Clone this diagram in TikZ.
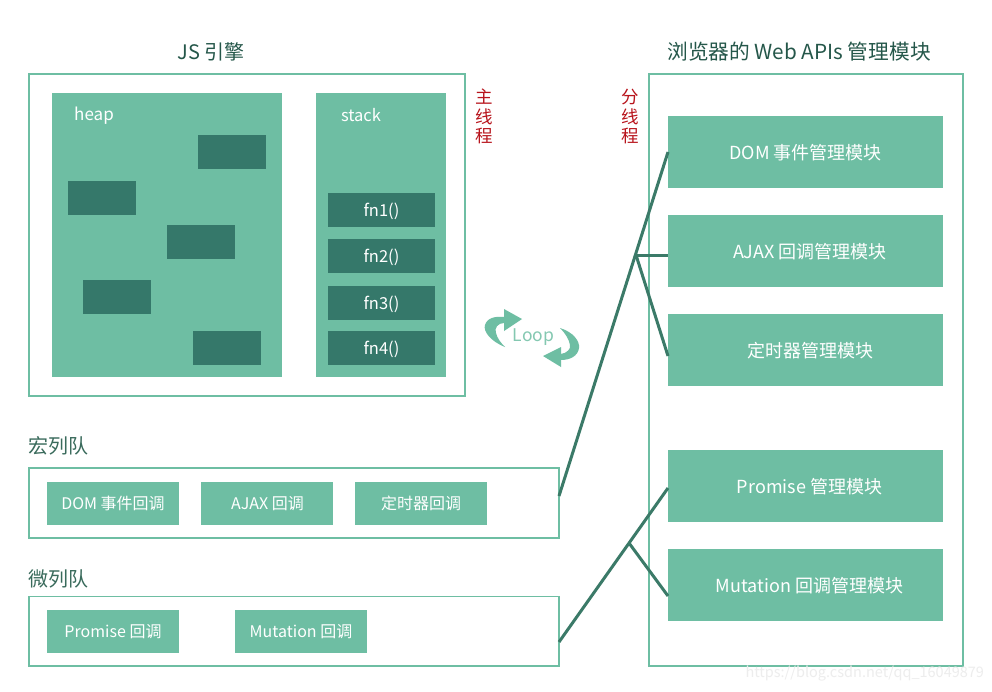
\documentclass[tikz,border=0pt]{standalone}
\usepackage{fontspec}
\setmainfont{Noto Sans CJK SC}
\definecolor{teal1}{HTML}{6EBEA3}
\definecolor{dark1}{HTML}{35786A}
\definecolor{line1}{HTML}{3B7A68}
\definecolor{title1}{HTML}{25574A}
\definecolor{lab1}{HTML}{3A6B5C}
\definecolor{red1}{HTML}{B8141C}
\tikzset{
 x=1pt,y=-1pt,
 outer/.style={draw=teal1,line width=1.6pt,fill=white,inner sep=0,outer sep=0},
 panel/.style={fill=teal1,inner sep=0,outer sep=0,text=white,text height=14pt,text depth=0pt,font=\fontsize{18}{20}\selectfont},
 chip/.style={fill=dark1,inner sep=0,outer sep=0,text=white,text height=12.5pt,text depth=0pt,font=\fontsize{16.5}{18}\selectfont},
 small/.style={fill=teal1,inner sep=0,outer sep=0,text=white,text height=12.5pt,text depth=0pt,font=\fontsize{16}{18}\selectfont},
 plain/.style={inner sep=0,outer sep=0},
 title/.style={plain,text=title1,font=\fontsize{20.7}{23}\selectfont},
 qlabel/.style={plain,text=lab1,font=\fontsize{20}{22}\selectfont},
 redtxt/.style={plain,text=red1,align=center,font=\fontsize{17.5}{19.7}\selectfont},
 wire/.style={draw=line1,line width=3pt}
}
\newcommand{\rct}[5]{\node[#1,minimum width=#4 pt,minimum height=#5 pt,anchor=north west] (#2) at #3 {};}
\begin{document}
\begin{tikzpicture}
\useasboundingbox (0,0) rectangle (992,691);
\fill[white] (0,0) rectangle (992,691);
% titles
\node[title,font=\fontsize{20}{23}\selectfont] (t1) at (211,52) {JS 引擎};
\node[title] (t2) at (799,52) {浏览器的 Web APIs 管理模块};
% JS engine
\rct{outer}{engine}{(29,74)}{436}{322}
\rct{panel}{heap}{(52,93)}{230}{284}
\rct{panel}{stack}{(316,93)}{130}{284}
\node[plain,text=white,font=\fontsize{17}{20}\selectfont] (heapl) at (94,115.5) {heap};
\node[plain,text=white,font=\fontsize{16.5}{20}\selectfont] (stackl) at (361,115) {stack};
\rct{chip}{h1}{(198,135)}{68}{34}
\rct{chip}{h2}{(68,181)}{68}{34}
\rct{chip}{h3}{(167,225)}{68}{34}
\rct{chip}{h4}{(83,280)}{68}{34}
\rct{chip}{h5}{(193,331)}{68}{34}
\node[chip,minimum width=107pt,minimum height=34pt] (f1) at (381.5,210) {fn1()};
\node[chip,minimum width=107pt,minimum height=34pt] (f2) at (381.5,256) {fn2()};
\node[chip,minimum width=107pt,minimum height=34pt] (f3) at (381.5,303) {fn3()};
\node[chip,minimum width=107pt,minimum height=34pt] (f4) at (381.5,348) {fn4()};
% red labels
\node[redtxt] (r1) at (484,116.5) {主\\线\\程};
\node[redtxt] (r2) at (630,116.5) {分\\线\\程};
% queues
\node[qlabel,anchor=west] (q1) at (28,446) {宏列队};
\rct{outer}{macro}{(29,468)}{530}{70}
\node[small,minimum width=132pt,minimum height=43pt] (m1) at (113,503.5) {DOM 事件回调};
\node[small,minimum width=132pt,minimum height=43pt] (m2) at (267,503.5) {\hspace*{1pt}AJAX 回调};
\node[small,minimum width=132pt,minimum height=43pt] (m3) at (421,503.5) {定时器回调};
\node[qlabel,anchor=west] (q2) at (28,579) {微列队};
\rct{outer}{micro}{(29,596.5)}{530}{69.5}
\node[small,minimum width=132pt,minimum height=43pt] (m4) at (113,631.5) {Promise 回调};
\node[small,minimum width=132pt,minimum height=43pt] (m5) at (301,631.5) {Mutation 回调};
% Web APIs
\rct{outer}{web}{(649,74)}{314}{592}
\node[panel,minimum width=275pt,minimum height=72pt] (a1) at (805.5,152) {DOM 事件管理模块};
\node[panel,minimum width=275pt,minimum height=72pt] (a2) at (805.5,251) {\hspace*{9pt}AJAX 回调管理模块};
\node[panel,minimum width=275pt,minimum height=72pt] (a3) at (805.5,350) {\hspace*{9pt}定时器管理模块};
\node[panel,minimum width=275pt,minimum height=72pt] (a4) at (805.5,486) {\hspace*{8pt}Promise 管理模块};
\node[panel,minimum width=275pt,minimum height=72pt] (a5) at (805.5,585) {\hspace*{8pt}Mutation 回调管理模块};
% connectors
\coordinate (j1) at (636,255);
\coordinate (j2) at (629,543);
\coordinate (e1) at (668,152);
\coordinate (e2) at (668,255);
\coordinate (e3) at (668,356);
\coordinate (e4) at (668,488);
\coordinate (e5) at (668,596);
\coordinate (s1) at (559,496);
\coordinate (s2) at (559,642);
\draw[wire] (s1) -- (e1);
\draw[wire] (j1) -- (e2);
\draw[wire] (j1) -- (e3);
\draw[wire] (s2) -- (e4);
\draw[wire] (j2) -- (e5);
% loop
\node[plain,text=teal1!85!white,font=\fontsize{17.5}{20}\selectfont] (loop) at (533.5,337) {Loop};
\fill[teal1] (505,347) .. controls (490,341) and (483,331) .. (485,325)
  .. controls (487,318) and (495,316) .. (504,317) -- (504,309) -- (522,319) -- (504,331) -- (504,323)
  .. controls (498,323) and (494,328) .. (496,333)
  .. controls (497,338) and (501,343) .. (505,347) -- cycle;
\fill[teal1] (560,328) .. controls (573,332) and (580,341) .. (579,348)
  .. controls (578,356) and (570,360) .. (561,360) -- (561,367) -- (543,356) -- (561,347) -- (561,354)
  .. controls (567,353) and (571,349) .. (570,345)
  .. controls (569,339) and (565,333) .. (560,328) -- cycle;
% watermark
\node[plain,anchor=east,text=black!7,font=\fontsize{14.5}{18}\selectfont] (wm) at (984,674) {https://blog.csdn.net/qq\_16049879};
\end{tikzpicture}
\end{document}
